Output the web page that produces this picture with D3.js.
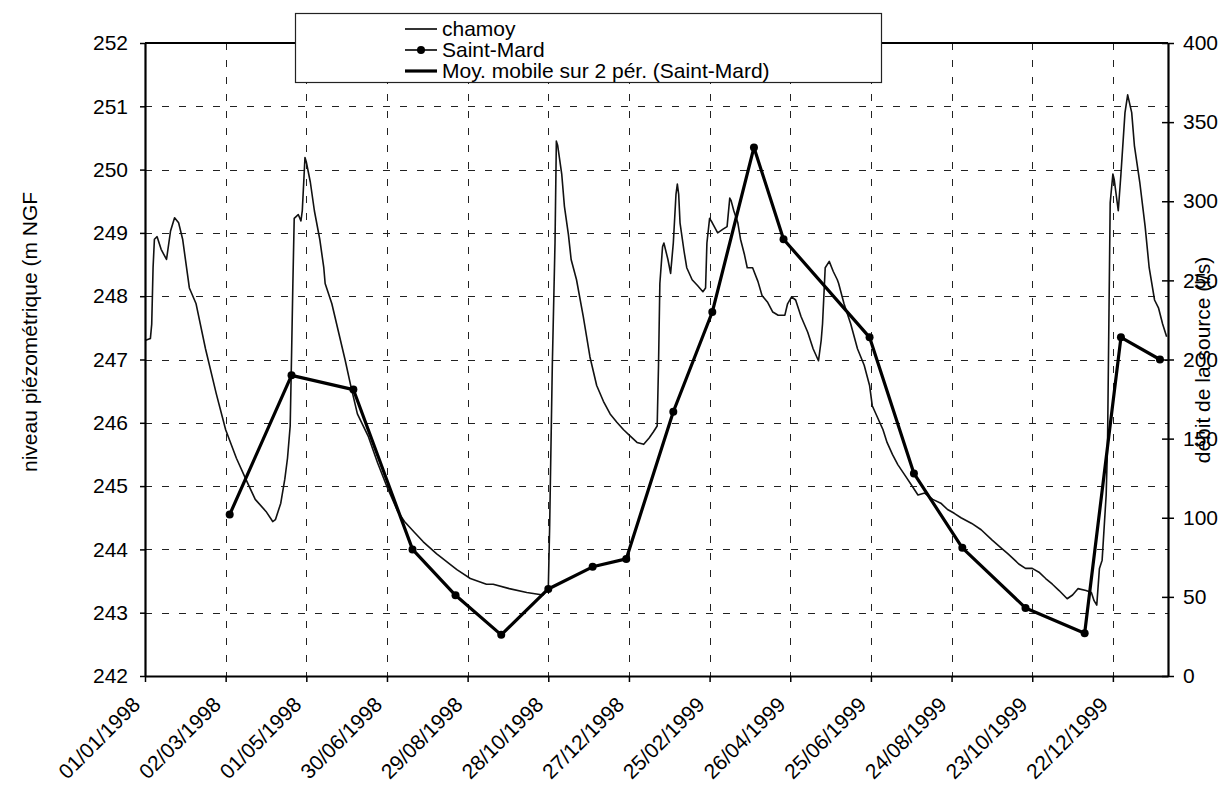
<!DOCTYPE html>
<html>
<head>
<meta charset="utf-8">
<script src="https://cdn.jsdelivr.net/npm/d3@7"></script>
<style>
  html, body { margin: 0; padding: 0; background: #fff; }
  svg { display: block; font-family: "Liberation Sans", Arial, sans-serif; }
</style>
</head>
<body>
<svg id="chart" width="1230" height="790"></svg>
<script>
// Date axis: labelled every 60 days, axis runs to 01/02/2000
const xTickLabels = ["01/01/1998", "02/03/1998", "01/05/1998", "30/06/1998", "29/08/1998",
  "28/10/1998", "27/12/1998", "25/02/1999", "26/04/1999", "25/06/1999", "24/08/1999",
  "23/10/1999", "22/12/1999"];
const xDomainLabels = ["01/01/1998", "01/02/2000"];

// Left axis: piezometric level (m NGF); right axis: spring discharge (l/s)
const levelTicks = [242, 243, 244, 245, 246, 247, 248, 249, 250, 251, 252];
const flowTicks = [0, 50, 100, 150, 200, 250, 300, 350, 400];

// Chamoy piezometer: days since 01/01/1998 and level (m NGF)
const chamoyDay = [0, 4, 5, 6, 7, 9, 12, 16, 19, 22, 25, 28, 33, 38, 45, 53, 60, 68, 75, 82,
  90, 95, 97, 101, 104, 106, 108, 109, 110, 111, 114, 116, 117, 119, 120, 123, 126, 130, 133, 134,
  139, 144, 149, 153, 158, 166, 173, 180, 188, 193, 200, 207, 217, 232, 242, 254, 259, 271, 284, 296,
  300, 301, 302, 303, 305, 306, 307, 310, 312, 315, 317, 321, 326, 331, 336, 341, 346, 351, 356, 361,
  366, 371, 375, 378, 381, 382, 383, 385, 386, 389, 391, 393, 395, 396, 397, 398, 401, 403, 407, 411,
  415, 417, 418, 420, 422, 426, 430, 433, 435, 436, 438, 441, 443, 446, 448, 452, 456, 459, 463, 467,
  471, 476, 478, 481, 484, 488, 493, 497, 501, 503, 504, 506, 509, 512, 515, 516, 520, 525, 530, 535,
  539, 541, 545, 549, 552, 556, 560, 566, 571, 575, 580, 586, 592, 597, 602, 607, 615, 622, 630, 637,
  642, 650, 655, 660, 665, 670, 675, 680, 686, 690, 694, 700, 704, 706, 708, 710, 712, 715, 716, 717,
  718, 720, 721, 724, 726, 729, 731, 734, 736, 740, 744, 747, 751, 754, 757, 760];
const chamoyLevel = [247.30, 247.33, 247.56, 248.45, 248.90, 248.94, 248.74, 248.58, 249.03, 249.24,
  249.16, 248.90, 248.13, 247.88, 247.17, 246.46, 245.89, 245.44, 245.11, 244.79,
  244.60, 244.44, 244.47, 244.73, 245.11, 245.44, 245.95, 247.04, 248.20, 249.23,
  249.29, 249.19, 249.35, 250.19, 250.12, 249.80, 249.35, 248.90, 248.45, 248.20,
  247.88, 247.43, 246.98, 246.59, 246.14, 245.79, 245.37, 244.99, 244.60, 244.44,
  244.28, 244.12, 243.93, 243.68, 243.54, 243.45, 243.45, 243.38, 243.32, 243.28,
  243.38, 244.34, 245.63, 246.91, 248.84, 250.45, 250.38, 249.93, 249.42, 248.97,
  248.58, 248.26, 247.68, 247.04, 246.59, 246.34, 246.14, 246.01, 245.89, 245.79,
  245.69, 245.66, 245.76, 245.85, 245.95, 246.91, 248.20, 248.78, 248.84, 248.58,
  248.36, 248.84, 249.61, 249.77, 249.61, 249.16, 248.71, 248.45, 248.26, 248.17,
  248.07, 248.13, 248.84, 249.23, 249.16, 249.00, 249.06, 249.10, 249.55, 249.51,
  249.35, 249.16, 248.90, 248.65, 248.45, 248.45, 248.23, 248.01, 247.91, 247.75,
  247.70, 247.70, 247.88, 247.99, 247.94, 247.68, 247.43, 247.17, 246.98, 247.30,
  247.56, 248.45, 248.55, 248.39, 248.26, 248.20, 247.88, 247.56, 247.17, 246.91,
  246.59, 246.27, 246.08, 245.89, 245.69, 245.50, 245.34, 245.15, 244.99, 244.86,
  244.89, 244.79, 244.73, 244.63, 244.57, 244.50, 244.41, 244.31, 244.15, 244.02,
  243.93, 243.77, 243.70, 243.70, 243.64, 243.54, 243.45, 243.35, 243.22, 243.28,
  243.38, 243.35, 243.32, 243.19, 243.12, 243.70, 243.83, 244.86, 245.63, 247.56,
  249.48, 249.93, 249.84, 249.35, 249.93, 250.90, 251.18, 250.90, 250.38, 249.80,
  249.10, 248.45, 247.94, 247.81, 247.56, 247.36];

// Saint-Mard spring: gauging dates and discharge (l/s)
const stMardDate = ["05/03/1998", "20/04/1998", "05/06/1998", "19/07/1998", "20/08/1998",
  "23/09/1998", "28/10/1998", "30/11/1998", "25/12/1998", "29/01/1999", "27/02/1999",
  "30/03/1999", "21/04/1999", "24/06/1999", "27/07/1999", "01/09/1999", "18/10/1999",
  "01/12/1999", "28/12/1999", "26/01/2000"];
const stMardFlow = [102, 190, 181, 80, 51, 26, 55, 69, 74, 167, 230, 334, 276, 214, 128, 81, 43,
  27, 214, 200];

const legendLabels = ["chamoy", "Saint-Mard", "Moy. mobile sur 2 pér. (Saint-Mard)"];
const leftTitle = "niveau piézométrique (m NGF";
const rightTitle = "débit de la source (l/s)";

// ---------------------------------------------------------------
const svg = d3.select("#chart");
const plot = { left: 145, right: 1168, top: 43, bottom: 676 };
const FONT = 21;

const parse = d3.timeParse("%d/%m/%Y");
const t0 = parse(xDomainLabels[0]);
const x = d3.scaleTime()
  .domain(xDomainLabels.map(parse))
  .range([plot.left, plot.right]);
const yL = d3.scaleLinear().domain([242, 252]).range([plot.bottom, plot.top]);
const yR = d3.scaleLinear().domain([0, 400]).range([plot.bottom, plot.top]);
const xTicks = xTickLabels.map(parse);

svg.append("rect").attr("width", 1230).attr("height", 790).attr("fill", "#fff");

// dashed grid
const grid = svg.append("g").attr("stroke", "#222").attr("stroke-width", 1)
  .attr("stroke-dasharray", "7,10");
grid.selectAll("line.h").data(levelTicks.slice(1, -1)).join("line")
  .attr("x1", plot.left).attr("x2", plot.right)
  .attr("y1", d => Math.round(yL(d)) + 0.5).attr("y2", d => Math.round(yL(d)) + 0.5);
grid.selectAll("line.v").data(xTicks.slice(1)).join("line")
  .attr("y1", plot.top).attr("y2", plot.bottom)
  .attr("x1", d => Math.round(x(d)) + 0.5).attr("x2", d => Math.round(x(d)) + 0.5);

// chamoy level
const chamoy = chamoyDay.map((d, i) => ({ date: d3.timeDay.offset(t0, d), v: chamoyLevel[i] }));
svg.append("path").datum(chamoy)
  .attr("fill", "none").attr("stroke", "#111").attr("stroke-width", 1.6)
  .attr("stroke-linejoin", "round")
  .attr("d", d3.line().x(d => x(d.date)).y(d => yL(d.v)));

// Saint-Mard discharge
const stMard = stMardDate.map((d, i) => ({ date: parse(d), v: stMardFlow[i] }));
svg.append("path").datum(stMard)
  .attr("fill", "none").attr("stroke", "#000").attr("stroke-width", 3.2)
  .attr("stroke-linejoin", "round")
  .attr("d", d3.line().x(d => x(d.date)).y(d => yR(d.v)));
svg.selectAll("circle.pt").data(stMard).join("circle")
  .attr("cx", d => x(d.date)).attr("cy", d => yR(d.v)).attr("r", 4).attr("fill", "#000");

// axes
const axisStyle = g => {
  g.selectAll("text").attr("font-size", FONT).attr("fill", "#000")
    .attr("font-family", "Liberation Sans, Arial, sans-serif");
  g.selectAll("line").attr("stroke", "#000").attr("stroke-width", 1.5);
  g.select(".domain").attr("stroke", "#000").attr("stroke-width", 2.2);
};
svg.append("g").attr("transform", `translate(${plot.left},0)`)
  .call(d3.axisLeft(yL).tickValues(levelTicks).tickSize(5).tickPadding(12).tickSizeOuter(0)
    .tickFormat(d3.format("d")))
  .call(axisStyle);
svg.append("g").attr("transform", `translate(${plot.right},0)`)
  .call(d3.axisRight(yR).tickValues(flowTicks).tickSize(6).tickPadding(9).tickSizeOuter(0)
    .tickFormat(d3.format("d")))
  .call(axisStyle)
  .call(g => g.selectAll(".tick line").attr("x1", -6));
const xAxis = svg.append("g").attr("transform", `translate(0,${plot.bottom})`)
  .call(d3.axisBottom(x).tickValues(xTicks).tickSize(6).tickSizeOuter(0)
    .tickFormat((d, i) => xTickLabels[i]))
  .call(axisStyle);
xAxis.selectAll(".tick text")
  .attr("text-anchor", "end").attr("dy", null).attr("y", null)
  .attr("transform", "translate(-4,30) rotate(-45)");

// top border
svg.append("line").attr("x1", plot.left).attr("x2", plot.right)
  .attr("y1", plot.top).attr("y2", plot.top).attr("stroke", "#000").attr("stroke-width", 2.2);

// axis titles
svg.append("text").attr("transform", "translate(37,332) rotate(-90)")
  .attr("text-anchor", "middle").attr("font-size", FONT).text(leftTitle);
svg.append("text").attr("transform", "translate(1210,360) rotate(-90)")
  .attr("text-anchor", "middle").attr("font-size", FONT).text(rightTitle);

// legend
const lg = svg.append("g");
lg.append("rect").attr("x", 295.5).attr("y", 13.5).attr("width", 586).attr("height", 69)
  .attr("fill", "#fff").attr("stroke", "#222").attr("stroke-width", 1.2);
const rowY = [29, 50, 71];
const sampleW = [1.6, 1.6, 3.2];
legendLabels.forEach((lab, i) => {
  lg.append("line").attr("x1", 405).attr("x2", 437).attr("y1", rowY[i]).attr("y2", rowY[i])
    .attr("stroke", "#000").attr("stroke-width", sampleW[i]);
  if (i === 1) lg.append("circle").attr("cx", 421).attr("cy", rowY[i]).attr("r", 4).attr("fill", "#000");
  lg.append("text").attr("x", 442).attr("y", rowY[i]).attr("dy", "0.35em")
    .attr("font-size", FONT).text(lab);
});
</script>
</body>
</html>
